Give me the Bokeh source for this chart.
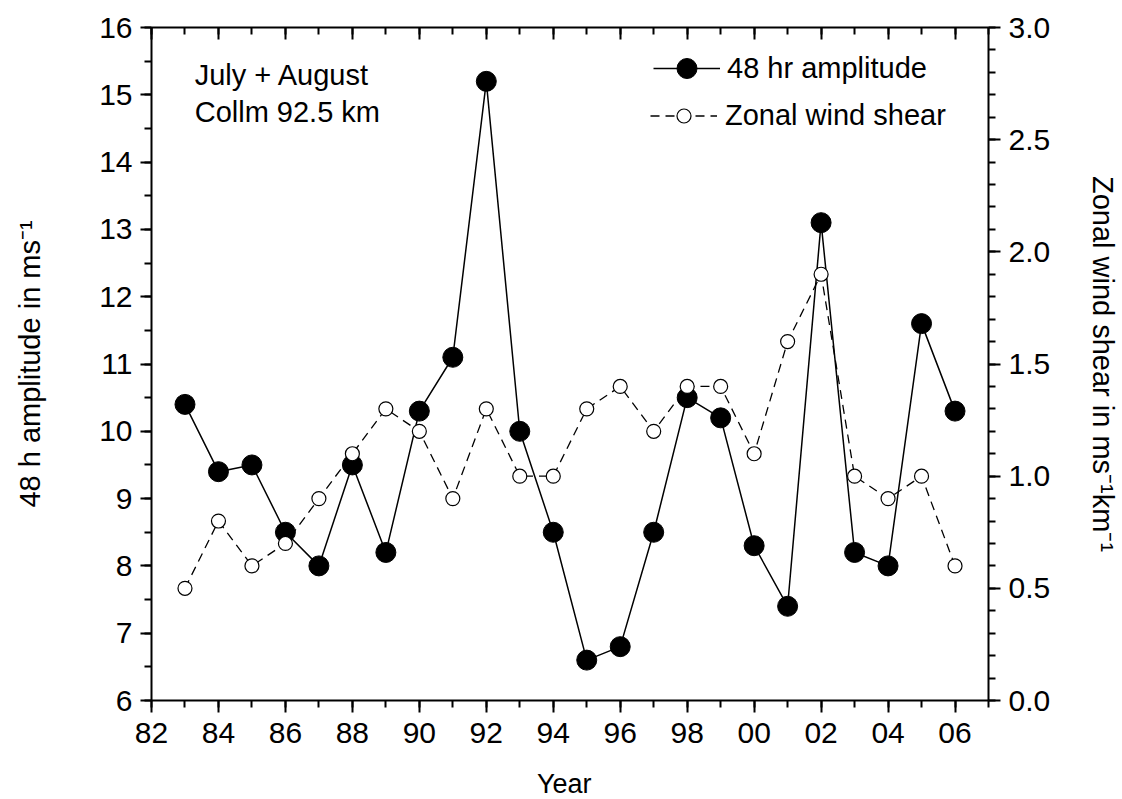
from bokeh.plotting import figure
from bokeh.layouts import column
from bokeh.models import (Range1d, LinearAxis, FixedTicker, SingleIntervalTicker,
                          NumeralTickFormatter, Legend, LegendItem, Label, Div)
from bokeh.embed import file_html
from bokeh.resources import INLINE

years = [1983, 1984, 1985, 1986, 1987, 1988, 1989, 1990, 1991, 1992, 1993, 1994,
         1995, 1996, 1997, 1998, 1999, 2000, 2001, 2002, 2003, 2004, 2005, 2006]
amplitude = [10.4, 9.4, 9.5, 8.5, 8.0, 9.5, 8.2, 10.3, 11.1, 15.2, 10.0, 8.5,
             6.6, 6.8, 8.5, 10.5, 10.2, 8.3, 7.4, 13.1, 8.2, 8.0, 11.6, 10.3]
shear = [0.5, 0.8, 0.6, 0.7, 0.9, 1.1, 1.3, 1.2, 0.9, 1.3, 1.0, 1.0,
         1.3, 1.4, 1.2, 1.4, 1.4, 1.1, 1.6, 1.9, 1.0, 0.9, 1.0, 0.6]
x_major = list(range(1982, 2007, 2))
x_minor = list(range(1982, 2008))
x_tick_labels = {y: "%02d" % (y % 100) for y in x_major}

FONT = "Liberation Sans"
FS = "30px"

p = figure(width=1122, height=769, output_backend="svg", toolbar_location=None,
           x_range=Range1d(1982, 2007), y_range=Range1d(6, 16),
           min_border_left=151, min_border_right=134, min_border_top=27,
           min_border_bottom=69, x_axis_location=None, y_axis_location=None)
p.extra_y_ranges = {"shear": Range1d(0, 3)}
p.xgrid.visible = False
p.ygrid.visible = False
p.outline_line_color = None
p.background_fill_color = "white"
p.border_fill_color = "white"


def style(ax, maj_out, min_out, maj_in=0, min_in=0):
    ax.axis_line_width = 2
    ax.axis_line_color = "black"
    ax.major_tick_line_width = 2
    ax.minor_tick_line_width = 2
    ax.major_tick_out = maj_out
    ax.minor_tick_out = min_out
    ax.major_tick_in = maj_in
    ax.minor_tick_in = min_in
    ax.major_label_text_font = FONT
    ax.major_label_text_font_size = FS
    ax.major_label_text_color = "black"
    ax.axis_label_text_font = FONT
    ax.axis_label_text_font_size = "29px"
    ax.axis_label_text_font_style = "normal"
    ax.axis_label_text_color = "black"


xb = LinearAxis(ticker=FixedTicker(ticks=x_major, minor_ticks=x_minor),
                major_label_overrides=x_tick_labels)
style(xb, 12, 7)
xb.major_label_standoff = 10
p.add_layout(xb, "below")

xt = LinearAxis(ticker=FixedTicker(ticks=x_major, minor_ticks=x_minor),
                major_label_overrides={y: "" for y in x_major})
style(xt, 0, 0, 12, 7)
xt.major_label_text_font_size = "0px"
xt.major_label_standoff = 0
p.add_layout(xt, "above")

yl = LinearAxis(ticker=SingleIntervalTicker(interval=1, num_minor_ticks=2),
                axis_label="48 h amplitude in ms\u207b\u00b9")
style(yl, 11, 7)
yl.major_label_standoff = 8
yl.axis_label_standoff = 50
p.add_layout(yl, "left")

yr = LinearAxis(y_range_name="shear",
                ticker=SingleIntervalTicker(interval=0.5, num_minor_ticks=5),
                formatter=NumeralTickFormatter(format="0.0"),
                axis_label="Zonal wind shear in ms\u207b\u00b9km\u207b\u00b9")
style(yr, 12, 7)
yr.major_label_standoff = 8
yr.axis_label_standoff = 34
p.add_layout(yr, "right")

# solid series
l1 = p.line(years, amplitude, line_color="black", line_width=1.5)
s1 = p.scatter(years, amplitude, size=20, fill_color="black", line_color="black")
# dashed series on top
l2 = p.line(years, shear, y_range_name="shear", line_color="black",
            line_width=1.3, line_dash="9 6")
s2 = p.scatter(years, shear, y_range_name="shear", size=14, fill_color="white",
               line_color="black", line_width=1.2)

leg1 = Legend(items=[LegendItem(label="48 hr amplitude", renderers=[l1, s1])],
              location=(502, 607), glyph_width=67, glyph_height=50,
              label_standoff=7, padding=0, margin=0, border_line_color=None,
              background_fill_alpha=0, label_text_font=FONT,
              label_text_color="black",
              label_text_font_size="29px", label_height=50)
leg2 = Legend(items=[LegendItem(label="Zonal wind shear", renderers=[l2, s2])],
              location=(499, 567), glyph_width=67, glyph_height=35,
              label_standoff=8, padding=0, margin=0, border_line_color=None,
              background_fill_alpha=0, label_text_font=FONT,
              label_text_color="black",
              label_text_font_size="29px", label_height=35)
p.add_layout(leg1, "center")
p.add_layout(leg2, "center")

p.add_layout(Label(x=1983.29, y=15.29, text="July + August", text_font=FONT,
                   text_font_size="29px", text_baseline="alphabetic",
                   text_color="black"))
p.add_layout(Label(x=1983.29, y=14.74, text="Collm 92.5 km", text_font=FONT,
                   text_font_size="29px", text_baseline="alphabetic",
                   text_color="black"))

xtitle = Div(text="Year", width=90, height=30, margin=(0, 0, 0, 537),
             styles={"font-family": "Liberation Sans", "font-size": "27px",
                     "line-height": "30px", "color": "black",
                     "white-space": "nowrap"})

layout = column(p, xtitle, spacing=0)
open("out.html", "w").write(file_html(layout, INLINE))
